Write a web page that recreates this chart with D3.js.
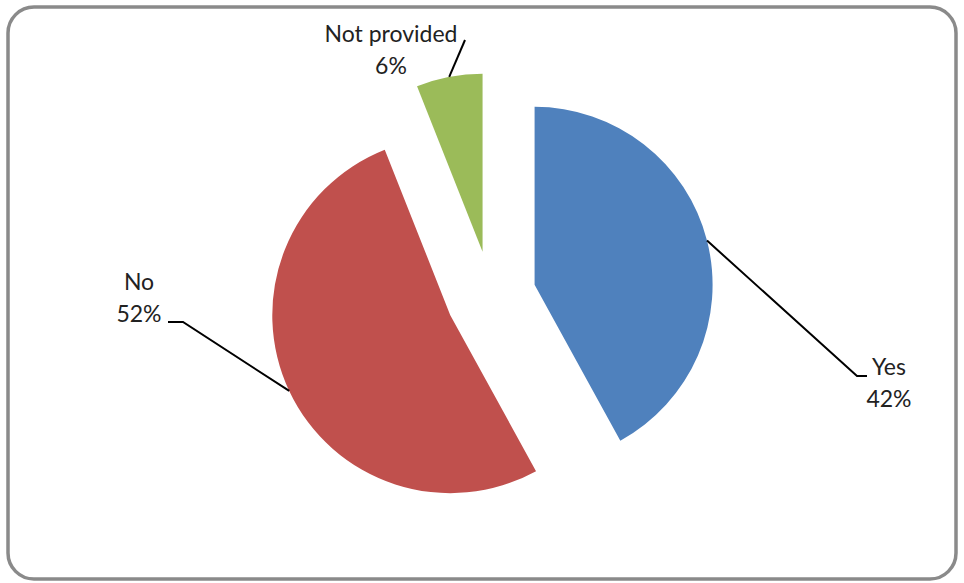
<!DOCTYPE html>
<html>
<head>
<meta charset="utf-8">
<script src="https://cdn.jsdelivr.net/npm/d3@7/dist/d3.min.js"></script>
<style>
  html, body { margin: 0; padding: 0; background: #fff; }
  svg { display: block; }
  text { font-family: Lato, "Open Sans", sans-serif; fill: #222; }
</style>
</head>
<body>
<svg id="chart" width="964" height="583"></svg>
<script>
// Survey responses (percent of respondents)
const categories = ["Yes", "No", "Not provided"];
const values = [42, 52, 6];
const colors = ["#4F81BD", "#C0504D", "#9BBB59"];

const W = 964, H = 583;
const svg = d3.select("#chart");

// Rounded chart-area frame
svg.append("rect")
  .attr("x", 8).attr("y", 7)
  .attr("width", W - 16).attr("height", H - 11)
  .attr("rx", 26).attr("ry", 26)
  .attr("fill", "#fff")
  .attr("stroke", "#8a8a8a")
  .attr("stroke-width", 3.5);

const cx = 491, cy = 296, radius = 178, explode = 45;

const pie = d3.pie().sort(null).value(d => d.value);
const arcs = pie(categories.map((c, i) => ({ name: c, value: values[i], color: colors[i] })));
const arcGen = d3.arc().innerRadius(0).outerRadius(radius);

const g = svg.append("g").attr("transform", `translate(${cx},${cy})`);

function offset(a) {
  const m = (a.startAngle + a.endAngle) / 2;
  return [Math.sin(m) * explode, -Math.cos(m) * explode];
}

g.selectAll("path.slice")
  .data(arcs)
  .enter().append("path")
  .attr("class", "slice")
  .attr("transform", d => `translate(${offset(d)})`)
  .attr("d", arcGen)
  .attr("fill", d => d.data.color);

// Label placement: elbow point, leader end, text anchor point (absolute)
const labelLayout = {
  "Yes":          { elbow: [857, 376], end: [867, 376], text: [889, 375], anchor: "middle" },
  "No":           { elbow: [183, 322], end: [168, 322], text: [139, 290], anchor: "middle" },
  "Not provided": { elbow: [465, 40],  end: null,       text: [391, 42],  anchor: "middle" }
};

const lab = svg.append("g");
arcs.forEach(a => {
  const m = (a.startAngle + a.endAngle) / 2;
  const [ox, oy] = offset(a);
  const sx = cx + ox + Math.sin(m) * radius;
  const sy = cy + oy - Math.cos(m) * radius;
  const L = labelLayout[a.data.name];
  const pts = [[sx, sy], L.elbow];
  if (L.end) pts.push(L.end);
  lab.append("path")
    .attr("d", d3.line()(pts))
    .attr("fill", "none")
    .attr("stroke", "#000")
    .attr("stroke-width", 2);
  const t = lab.append("text")
    .attr("x", L.text[0]).attr("y", L.text[1])
    .attr("text-anchor", L.anchor)
    .attr("font-size", 23);
  t.append("tspan").attr("x", L.text[0]).text(a.data.name);
  t.append("tspan").attr("x", L.text[0]).attr("dy", 32).text(Math.round(a.value) + "%");
});
</script>
</body>
</html>
